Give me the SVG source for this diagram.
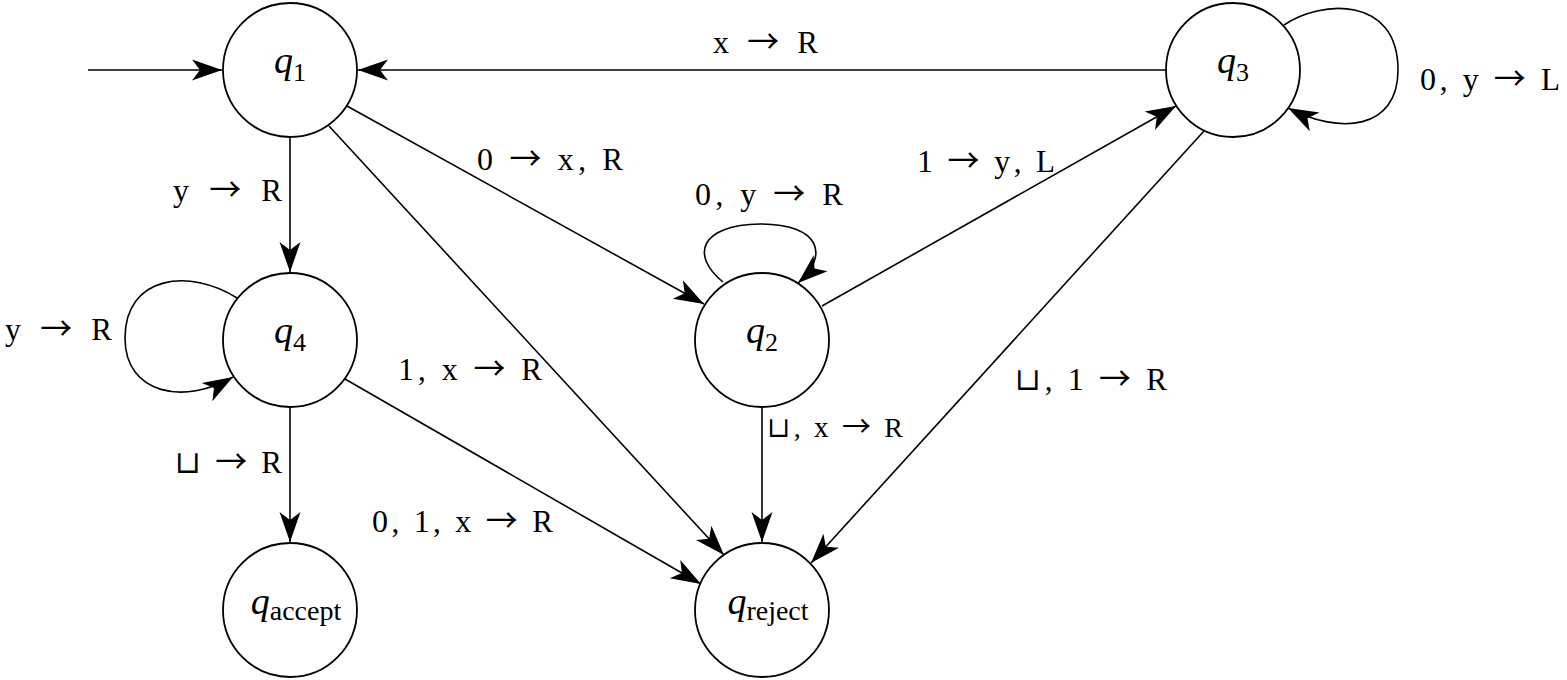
<svg xmlns="http://www.w3.org/2000/svg" width="1567" height="680" viewBox="0 0 1567 680">
<style>
.node{fill:#fff;stroke:#000;stroke-width:1.8}
.edge{fill:none;stroke:#000;stroke-width:1.6;marker-end:url(#arr)}
.lbl{font-family:"Liberation Serif","DejaVu Serif","DejaVu Sans",serif;font-size:31px;fill:#000}
.m{font-family:"Liberation Serif","DejaVu Serif",serif;font-size:32px}
.a{font-family:"Noto Sans CJK SC","DejaVu Sans",sans-serif;font-size:32px}
.q{font-family:"Liberation Serif","DejaVu Serif",serif;font-style:italic;font-size:38px;fill:#000}
.sub{font-family:"Liberation Serif","DejaVu Serif",serif;font-style:normal;font-size:26px}
</style>
<defs>
<marker id="arr" viewBox="-31 -12 32 24" refX="0" refY="0" markerWidth="32" markerHeight="24" markerUnits="userSpaceOnUse" orient="auto">
<path d="M0,0 L-30,-10.5 L-22,0 L-30,10.5 Z" fill="#000"/>
</marker>
</defs>
<rect width="1567" height="680" fill="#fff"/>
<g id="connectors">
<path class="edge" d="M88,70 L222,70"/>
<path class="edge" d="M1166,70 L358,70"/>
<path class="edge" d="M290,137 L290,272"/>
<path class="edge" d="M290,407 L290,542"/>
<path class="edge" d="M762,407 L762,542"/>
<path class="edge" d="M347,106 L704,304"/>
<path class="edge" d="M329,126 L724,555"/>
<path class="edge" d="M345,379 L701,584"/>
<path class="edge" d="M822,306 L1176,106"/>
<path class="edge" d="M1204,131 L811,563"/>
<path class="edge" d="M237,298 C190,268 125,275 125,338 C125,395 185,405 233,377"/>
<path class="edge" d="M723,282 C690,255 700,225 760,224 C820,224 830,255 798,283"/>
<path class="edge" d="M1284,25 C1320,0 1398,-5 1398,70 C1398,130 1340,135 1288,108"/>
</g>
<g id="labels">
<text class="lbl" x="713" y="53" textLength="105" lengthAdjust="spacing"><tspan class="m">x</tspan> <tspan class="a">→</tspan> R</text>
<text class="lbl" x="1420" y="90" textLength="140" lengthAdjust="spacing"><tspan class="m">0</tspan>, <tspan class="m">y</tspan> <tspan class="a">→</tspan> L</text>
<text class="lbl" x="477" y="170" textLength="146" lengthAdjust="spacing"><tspan class="m">0</tspan> <tspan class="a">→</tspan> <tspan class="m">x</tspan>, R</text>
<text class="lbl" x="173" y="201" textLength="109" lengthAdjust="spacing"><tspan class="m">y</tspan> <tspan class="a">→</tspan> R</text>
<text class="lbl" x="695" y="205" textLength="148" lengthAdjust="spacing"><tspan class="m">0</tspan>, <tspan class="m">y</tspan> <tspan class="a">→</tspan> R</text>
<text class="lbl" x="917" y="172" textLength="138" lengthAdjust="spacing"><tspan class="m">1</tspan> <tspan class="a">→</tspan> <tspan class="m">y</tspan>, L</text>
<text class="lbl" x="5" y="340" textLength="107" lengthAdjust="spacing"><tspan class="m">y</tspan> <tspan class="a">→</tspan> R</text>
<text class="lbl" x="398" y="380" textLength="144" lengthAdjust="spacing"><tspan class="m">1</tspan>, <tspan class="m">x</tspan> <tspan class="a">→</tspan> R</text>
<text class="lbl" x="175" y="473" textLength="107" lengthAdjust="spacing">⊔ <tspan class="a">→</tspan> R</text>
<text class="lbl" x="767" y="437" textLength="136" lengthAdjust="spacing" style="font-size:28px">⊔, <tspan class="m" style="font-size:29px">x</tspan> <tspan class="a" style="font-size:29px">→</tspan> R</text>
<text class="lbl" x="1015" y="390" textLength="152" lengthAdjust="spacing">⊔, <tspan class="m">1</tspan> <tspan class="a">→</tspan> R</text>
<text class="lbl" x="372" y="532" textLength="181" lengthAdjust="spacing"><tspan class="m">0</tspan>, <tspan class="m">1</tspan>, <tspan class="m">x</tspan> <tspan class="a">→</tspan> R</text>
</g>
<g id="q1"><circle class="node" cx="290" cy="70" r="67"/><text class="q" x="290" y="73" text-anchor="middle">q<tspan class="sub" dy="8">1</tspan></text></g>
<g id="q4"><circle class="node" cx="290" cy="340" r="67"/><text class="q" x="290" y="343" text-anchor="middle">q<tspan class="sub" dy="8">4</tspan></text></g>
<g id="q2"><circle class="node" cx="762" cy="340" r="67"/><text class="q" x="762" y="343" text-anchor="middle">q<tspan class="sub" dy="8">2</tspan></text></g>
<g id="q3"><circle class="node" cx="1233" cy="70" r="67"/><text class="q" x="1233" y="73" text-anchor="middle">q<tspan class="sub" dy="8">3</tspan></text></g>
<g id="qaccept"><circle class="node" cx="290" cy="610" r="67"/><text class="q" x="296" y="614" text-anchor="middle">q<tspan class="sub" dy="6" style="font-size:28px">accept</tspan></text></g>
<g id="qreject"><circle class="node" cx="762" cy="610" r="67"/><text class="q" x="768" y="614" text-anchor="middle">q<tspan class="sub" dy="6" style="font-size:28px">reject</tspan></text></g>
</svg>
